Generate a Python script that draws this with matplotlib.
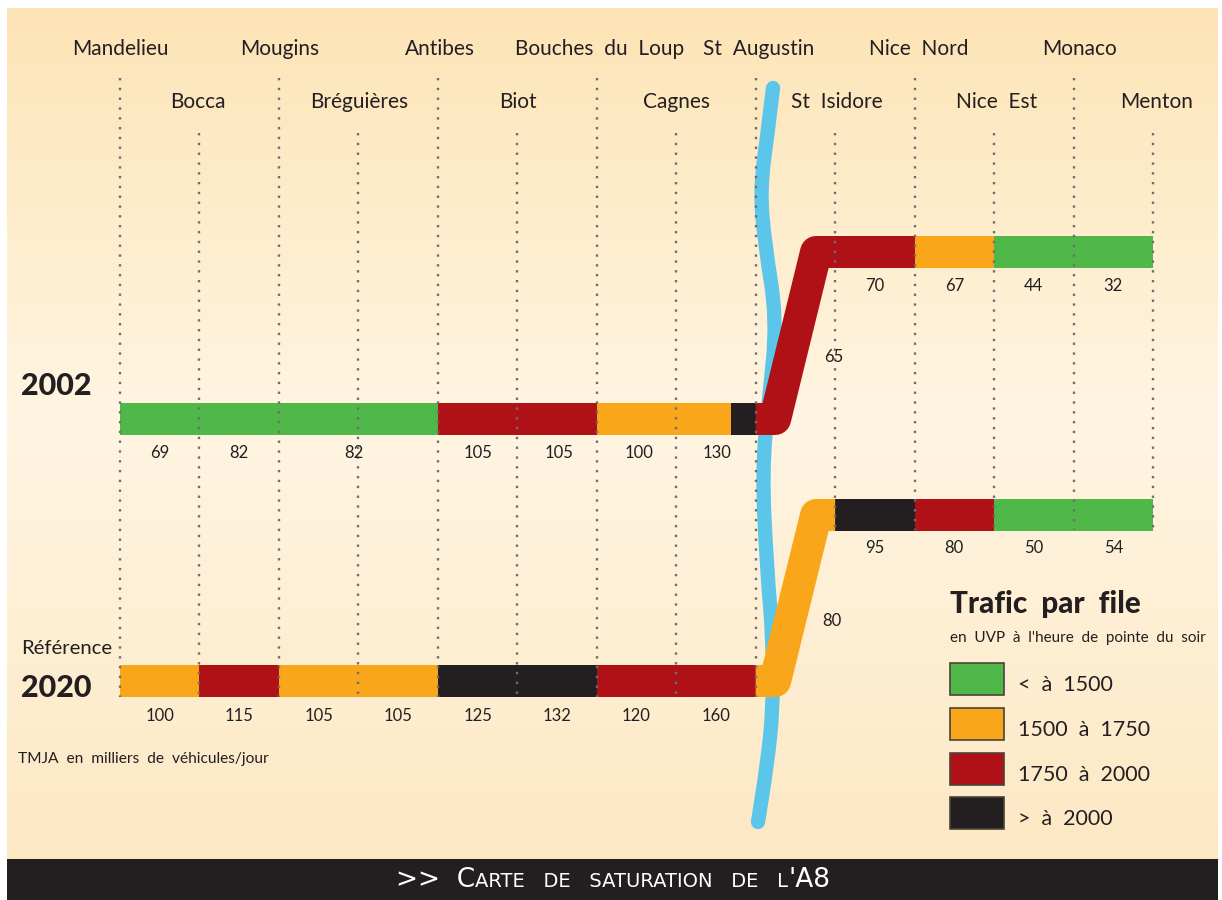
import numpy as np
import matplotlib
matplotlib.use("Agg")
import matplotlib.pyplot as plt
from matplotlib.patches import Rectangle, PathPatch
from matplotlib.path import Path

NARROW = ['Lato', 'DejaVu Sans']
BOLD = ['Lato', 'DejaVu Sans']
INK = '#231f20'
C = {'g': '#50b848', 'o': '#faa61a', 'r': '#b01116', 'k': '#231f20'}

towns_top = ['Mandelieu', 'Mougins', 'Antibes', 'Bouches  du  Loup', 'St  Augustin', 'Nice  Nord', 'Monaco']
towns_low = ['Bocca', 'Bréguières', 'Biot', 'Cagnes', 'St  Isidore', 'Nice  Est', 'Menton']

# segments between interchanges: start index, end index, class
seg_2002_low = [(0, 4, 'g'), (4, 6, 'r'), (6, 7.69, 'o'), (7.69, 8, 'k')]
seg_2002_high = [(9, 10, 'r'), (10, 11, 'o'), (11, 13, 'g')]
ramp_2002 = 'r'
seg_2020_low = [(0, 1, 'o'), (1, 2, 'r'), (2, 4, 'o'), (4, 6, 'k'), (6, 8, 'r')]
seg_2020_high = [(9, 10, 'k'), (10, 11, 'r'), (11, 13, 'g')]
ramp_2020 = 'o'

vals_2002_low = [69, 82, 82, 105, 105, 100, 130]
pos_2002_low = [0.5, 1.49, 2.94, 4.51, 5.52, 6.53, 7.51]
vals_2002_high = [70, 67, 44, 32]
vals_2020_low = [100, 115, 105, 105, 125, 132, 120, 160]
vals_2020_high = [95, 80, 50, 54]
pos_high = [9.5, 10.5, 11.5, 12.5]
val_ramp_2002 = 65
val_ramp_2020 = 80

legend_labels = ['<  à  1500', '1500  à  1750', '1750  à  2000', '>  à  2000']
legend_keys = ['g', 'o', 'r', 'k']

X0, DX = 120.0, 79.46

fig = plt.figure(figsize=(12.22, 9.0), dpi=100)
ax = fig.add_axes([0, 0, 1, 1])
ax.axis('off')

def X(px):
    return (px - X0) / DX

# background gradient (vertical)
rows = np.arange(8, 860)
stops = [8, 420, 859]
r = np.interp(rows, stops, [253, 255, 253])
g = np.interp(rows, stops, [228, 245, 232])
b = np.interp(rows, stops, [182, 226, 196])
grad = np.dstack([r, g, b]).astype(np.uint8).reshape(-1, 1, 3)
ax.imshow(grad, extent=(X(7), X(1218), 859, 8), aspect='auto', zorder=0)
ax.set_xlim(-X0 / DX, (1222 - X0) / DX)
ax.set_ylim(900, 0)
ax.add_patch(Rectangle((X(7), 859), (1218 - 7) / DX, 41, fc=INK, ec='none', zorder=1))

# river
river = [(773, 88), (768, 130), (760, 190), (765, 245), (777, 320), (769, 400),
         (762, 470), (767, 570), (773, 640), (773, 710), (767, 765), (758, 822)]
pts = [(X(a), b_) for a, b_ in river]
verts = [pts[0]]
codes = [Path.MOVETO]
for i in range(1, len(pts) - 1):
    mid = ((pts[i][0] + pts[i + 1][0]) / 2, (pts[i][1] + pts[i + 1][1]) / 2)
    verts += [pts[i], mid]
    codes += [Path.CURVE3, Path.CURVE3]
verts.append(pts[-1])
codes.append(Path.LINETO)
ax.add_patch(PathPatch(Path(verts, codes), fc='none', ec='#5cc6ea', lw=10.3,
                       capstyle='round', joinstyle='round', zorder=2))

# bars
BAR_H = 32
def bars(segs, yc):
    for a, b_, k in segs:
        ax.add_patch(Rectangle((a, yc - BAR_H / 2), b_ - a, BAR_H, fc=C[k], ec='none', zorder=3))

def ramp(k, ylow, yhigh):
    ax.plot([8, 8.245, 8.76, 9], [ylow, ylow, yhigh, yhigh], color=C[k], lw=BAR_H * 0.72,
            solid_capstyle='butt', solid_joinstyle='round', zorder=3)

Y02L, Y02H, Y20L, Y20H = 419, 252, 681, 515
bars(seg_2002_low, Y02L); bars(seg_2002_high, Y02H); ramp(ramp_2002, Y02L, Y02H)
bars(seg_2020_low, Y20L); bars(seg_2020_high, Y20H); ramp(ramp_2020, Y20L, Y20H)

# dotted interchange lines
ends = [697] * 9 + [530, 530, 530, 530, 530]
for i in range(14):
    start = 78 if i % 2 == 0 else 133
    ax.plot([i, i], [start, ends[i]], color='#6d6e71', lw=1.7, ls=(0, (1, 3.15)),
            dash_capstyle='butt', zorder=4)

def t(x, y, s, size, **kw):
    kw.setdefault('family', NARROW)
    kw.setdefault('color', INK)
    kw.setdefault('ha', 'center')
    kw.setdefault('va', 'center')
    return ax.text(x, y, s, fontsize=size, zorder=6, **kw)

top_px = [120, 280, 440, 600, 759, 919, 1079]
low_px = [198, 359, 518, 677, 837, 997, 1157]
for px, s in zip(top_px, towns_top):
    t(X(px), 49, s, 15)
for px, s in zip(low_px, towns_low):
    t(X(px), 102, s, 15)

for p, v in zip(pos_2002_low, vals_2002_low):
    t(p, 453, str(v), 12)
for p, v in zip(pos_high, vals_2002_high):
    t(p, 286, str(v), 12)
for i, v in enumerate(vals_2020_low):
    t(i + 0.5, 716, str(v), 12)
for p, v in zip(pos_high, vals_2020_high):
    t(p, 548, str(v), 12)
t(X(834), 357, str(val_ramp_2002), 12)
t(X(832), 621, str(val_ramp_2020), 12)

t(X(21), 386, '2002', 22, ha='left', family=BOLD, weight='black')
t(X(21), 649, 'Référence', 14.6, ha='left')
t(X(21), 688, '2020', 22, ha='left', family=BOLD, weight='black')
t(X(18), 759, 'TMJA  en  milliers  de  véhicules/jour', 11.2, ha='left')

t(X(950), 604, 'Trafic  par  file', 21.3, ha='left', family=BOLD, weight='black')
t(X(950), 638, "en  UVP  à  l'heure  de  pointe  du  soir", 11, ha='left')
for k, s, y in zip(legend_keys, legend_labels, [679, 724, 769, 813]):
    ax.add_patch(Rectangle((X(950), y - 16), 54 / DX, 32, fc=C[k], ec='#4a4438', lw=1.2, zorder=5))
    t(X(1018), y + 6, s, 15.5, ha='left')

# banner in small capitals
fig.canvas.draw()
parts = [('>>  C', 19), ('ARTE   DE   SATURATION   DE   L', 14), ("'A8", 19)]
rend = fig.canvas.get_renderer()
items = [t(0, 887, s, sz, ha='left', va='baseline', color='white', family=['DejaVu Sans'])
         for s, sz in parts]
ws = [it.get_window_extent(rend).width for it in items]
x = 613 - sum(ws) / 2
for it, w in zip(items, ws):
    it.set_x(X(x))
    x += w

fig.savefig('out.png', dpi=100)
